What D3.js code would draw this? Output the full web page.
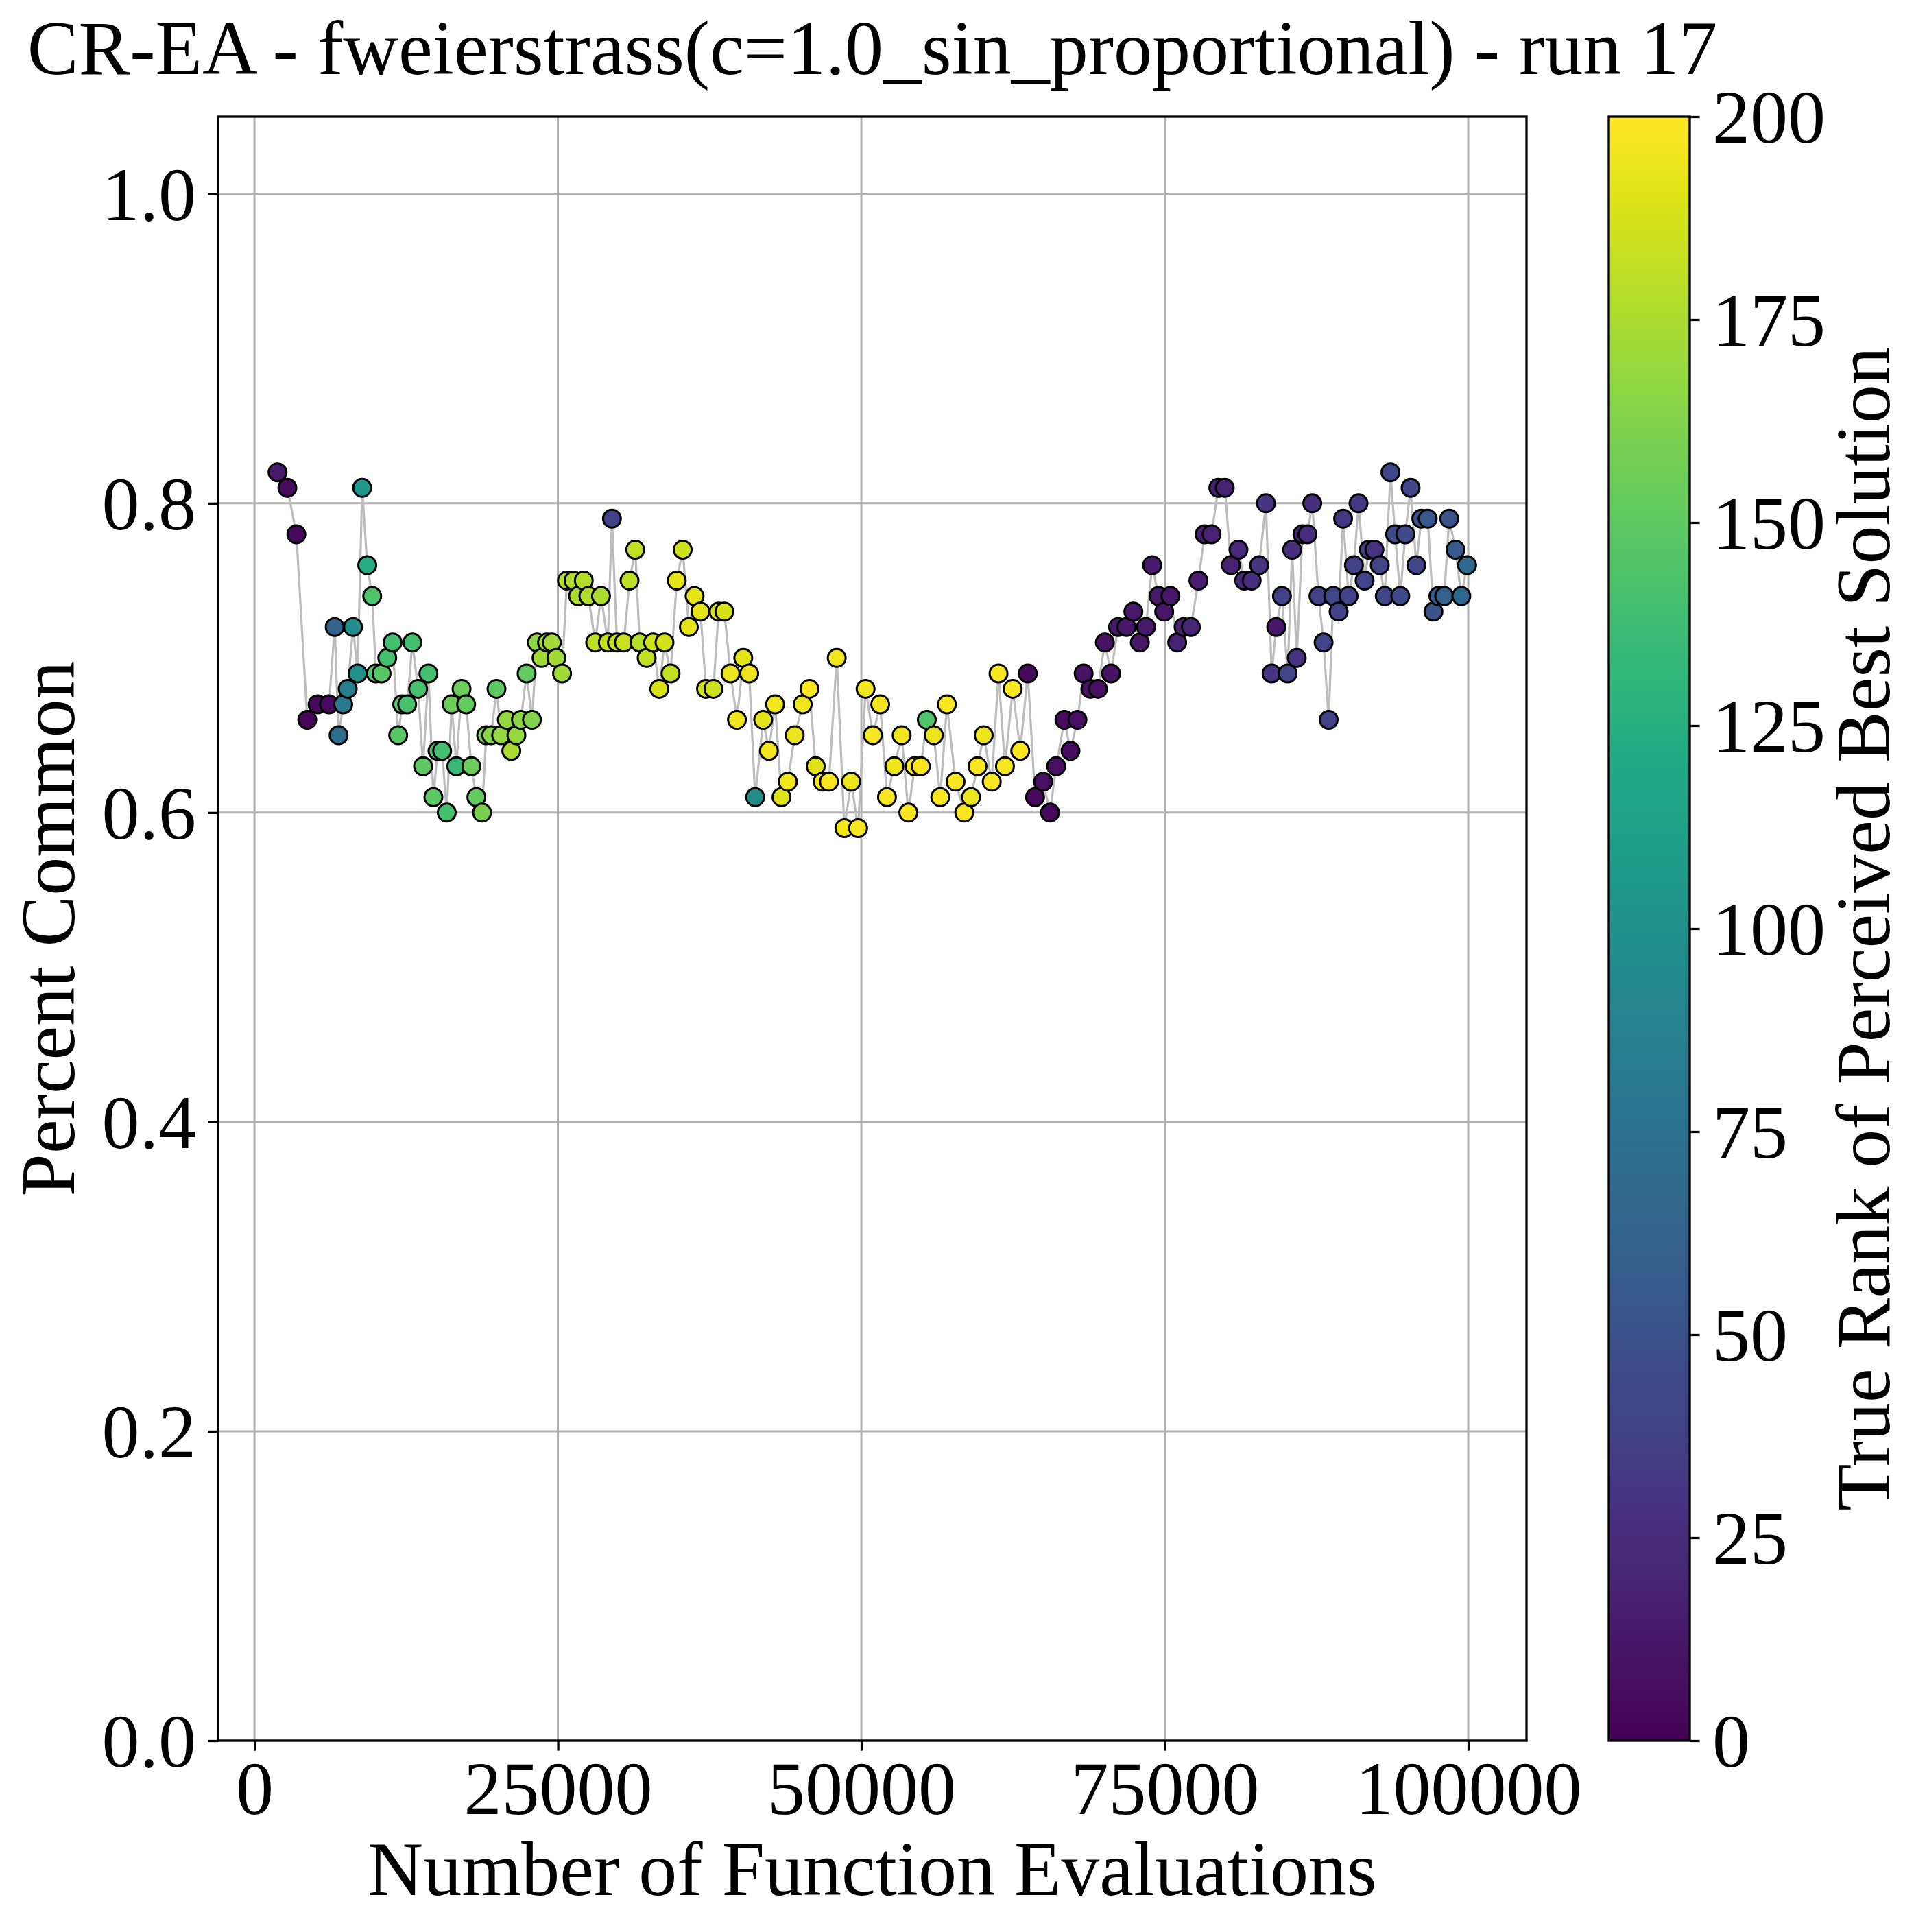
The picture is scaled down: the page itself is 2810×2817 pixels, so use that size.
<!DOCTYPE html>
<html>
<head>
<meta charset="utf-8">
<script src="https://cdn.jsdelivr.net/npm/d3@7"></script>
<style>
  body { margin: 0; background: #fff; }
  text { font-family: "Liberation Serif", "Times New Roman", serif; fill: #000; }
</style>
</head>
<body>
<div id="chart"></div>
<script>
// values
const evals = [1900, 2710, 3450, 4350, 5200, 6140, 6610, 6930, 7310, 7680,
  8120, 8500, 8870, 9290, 9700, 10000, 10470, 10940, 11380, 11840,
  12170, 12580, 13010, 13480, 13890, 14330, 14740, 15080, 15460, 15840,
  16250, 16630, 17060, 17440, 17870, 18280, 18750, 19090, 19510, 19940,
  20320, 20790, 21160, 21580, 21950, 22420, 22860, 23270, 23650, 24100,
  24500, 24870, 25340, 25740, 26290, 26660, 27130, 27510, 28070, 28550,
  29110, 29450, 29860, 30430, 30900, 31370, 31730, 32310, 32840, 33350,
  33780, 34280, 34790, 35280, 35790, 36260, 36740, 37200, 37810, 38240,
  38710, 39220, 39750, 40270, 40760, 41250, 41910, 42380, 42890, 43420,
  43940, 44510, 45170, 45720, 46240, 46810, 47330, 47970, 48600, 49160,
  49730, 50350, 50950, 51550, 52110, 52720, 53320, 53870, 54390, 54900,
  55390, 55970, 56500, 57050, 57760, 58480, 59040, 59570, 60080, 60740,
  61300, 61830, 62470, 63090, 63710, 64310, 64980, 65540, 66050, 66730,
  67230, 67800, 68310, 68870, 69490, 70060, 70570, 71150, 71840, 72410,
  72940, 73450, 73960, 74480, 74950, 75460, 76020, 76550, 77150, 77770,
  78280, 78850, 79410, 79940, 80450, 81070, 81540, 82160, 82770, 83330,
  83800, 84180, 84650, 85120, 85490, 85870, 86340, 86750, 87150, 87660,
  88080, 88500, 88880, 89320, 89690, 90140, 90580, 90960, 91460, 91800,
  92270, 92710, 93120, 93590, 93970, 94400, 94810, 95250, 95720, 96130,
  96660, 97130, 97540, 98020, 98430, 98950, 99430, 99900];

const percentCommon = [0.82, 0.81, 0.78, 0.66, 0.67, 0.67, 0.72, 0.65, 0.67, 0.68,
  0.72, 0.69, 0.81, 0.76, 0.74, 0.69, 0.69, 0.70, 0.71, 0.65,
  0.67, 0.67, 0.71, 0.68, 0.63, 0.69, 0.61, 0.64, 0.64, 0.60,
  0.67, 0.63, 0.68, 0.67, 0.63, 0.61, 0.60, 0.65, 0.65, 0.68,
  0.65, 0.66, 0.64, 0.65, 0.66, 0.69, 0.66, 0.71, 0.70, 0.71,
  0.71, 0.70, 0.69, 0.75, 0.75, 0.74, 0.75, 0.74, 0.71, 0.74,
  0.71, 0.79, 0.71, 0.71, 0.75, 0.77, 0.71, 0.70, 0.71, 0.68,
  0.71, 0.69, 0.75, 0.77, 0.72, 0.74, 0.73, 0.68, 0.68, 0.73,
  0.73, 0.69, 0.66, 0.70, 0.69, 0.61, 0.66, 0.64, 0.67, 0.61,
  0.62, 0.65, 0.67, 0.68, 0.63, 0.62, 0.62, 0.70, 0.59, 0.62,
  0.59, 0.68, 0.65, 0.67, 0.61, 0.63, 0.65, 0.60, 0.63, 0.63,
  0.66, 0.65, 0.61, 0.67, 0.62, 0.60, 0.61, 0.63, 0.65, 0.62,
  0.69, 0.63, 0.68, 0.64, 0.69, 0.61, 0.62, 0.60, 0.63, 0.66,
  0.64, 0.66, 0.69, 0.68, 0.68, 0.71, 0.69, 0.72, 0.72, 0.73,
  0.71, 0.72, 0.76, 0.74, 0.73, 0.74, 0.71, 0.72, 0.72, 0.75,
  0.78, 0.78, 0.81, 0.81, 0.76, 0.77, 0.75, 0.75, 0.76, 0.80,
  0.69, 0.72, 0.74, 0.69, 0.77, 0.70, 0.78, 0.78, 0.80, 0.74,
  0.71, 0.66, 0.74, 0.73, 0.79, 0.74, 0.76, 0.80, 0.75, 0.77,
  0.77, 0.76, 0.74, 0.82, 0.78, 0.74, 0.78, 0.81, 0.76, 0.79,
  0.79, 0.73, 0.74, 0.74, 0.79, 0.77, 0.74, 0.76];

const trueRank = [14, 6, 4, 3, 5, 6, 62, 72, 80, 84,
  98, 102, 106, 124, 145, 150, 148, 140, 140, 148,
  148, 142, 140, 142, 150, 140, 150, 145, 140, 140,
  155, 135, 155, 152, 155, 152, 160, 160, 165, 150,
  168, 168, 175, 168, 165, 152, 162, 165, 172, 172,
  172, 172, 172, 178, 176, 175, 178, 176, 180, 175,
  182, 38, 182, 184, 180, 182, 178, 182, 185, 188,
  187, 182, 192, 185, 192, 192, 192, 185, 185, 190,
  188, 195, 195, 192, 195, 98, 192, 196, 196, 190,
  196, 194, 196, 198, 190, 196, 198, 196, 196, 194,
  198, 196, 198, 196, 198, 194, 196, 198, 198, 198,
  145, 194, 198, 198, 198, 198, 194, 198, 194, 198,
  198, 198, 198, 198, 5, 5, 8, 5, 8, 6,
  6, 8, 10, 10, 8, 10, 10, 12, 12, 14,
  12, 14, 14, 14, 12, 12, 18, 18, 20, 16,
  18, 18, 18, 18, 18, 22, 24, 28, 30, 30,
  30, 12, 38, 40, 25, 30, 22, 25, 28, 38,
  40, 38, 42, 38, 32, 38, 38, 32, 40, 35,
  30, 40, 42, 42, 45, 45, 45, 42, 42, 50,
  55, 50, 55, 60, 52, 55, 65, 68];

const xTicks = [0, 25000, 50000, 75000, 100000];
const yTicks = [0.0, 0.2, 0.4, 0.6, 0.8, 1.0];
const rankTicks = [0, 25, 50, 75, 100, 125, 150, 175, 200];

const titleText = "CR-EA - fweierstrass(c=1.0_sin_proportional) - run 17";
const xLabel = "Number of Function Evaluations";
const yLabel = "Percent Common";
const cbLabel = "True Rank of Perceived Best Solution";

// page size
const width = 2810;
const height = 2817;

// plot box (window.top is taken, so prefixed names)
const plotLeft = 318, plotRight = 2226, plotTop = 170, plotBottom = 2538;
// colorbar box
const cbLeft = 2346, cbRight = 2464;

const labelSize = 112;
const tickSize = 110;
const tickLen = 14.6;
const serif = "'Liberation Serif', 'Times New Roman', serif";

const svg = d3.select("#chart")
  .append("svg")
  .attr("width", width)
  .attr("height", height);

svg.append("rect").attr("width", width).attr("height", height).attr("fill", "#fff");

// matplotlib style 5% margin on x
const ext = d3.extent(evals);
const pad = (ext[1] - ext[0]) * 0.05;
const x = d3.scaleLinear().domain([ext[0] - pad, ext[1] + pad]).range([plotLeft, plotRight]);
const y = d3.scaleLinear().domain([0, 1.05]).range([plotBottom, plotTop]);
const color = d3.scaleSequential(d3.interpolateViridis).domain([0, 200]);

const points = evals.map((e, i) => ({ x: e, y: percentCommon[i], c: trueRank[i] }));

// grid
svg.append("g")
  .selectAll("line")
  .data(xTicks)
  .enter()
  .append("line")
  .attr("x1", d => x(d)).attr("x2", d => x(d))
  .attr("y1", plotTop).attr("y2", plotBottom)
  .style("stroke", "#b0b0b0")
  .style("stroke-width", 3);

svg.append("g")
  .selectAll("line")
  .data(yTicks)
  .enter()
  .append("line")
  .attr("x1", plotLeft).attr("x2", plotRight)
  .attr("y1", d => y(d)).attr("y2", d => y(d))
  .style("stroke", "#b0b0b0")
  .style("stroke-width", 3);

// connecting line
const line = d3.line().x(d => x(d.x)).y(d => y(d.y));
svg.append("path")
  .datum(points)
  .attr("d", line)
  .style("fill", "none")
  .style("stroke", "#bdbdbd")
  .style("stroke-width", 3.2);

// markers
svg.append("g")
  .selectAll("circle")
  .data(points)
  .enter()
  .append("circle")
  .attr("cx", d => x(d.x))
  .attr("cy", d => y(d.y))
  .attr("r", 13)
  .style("fill", d => color(d.c))
  .style("stroke", "#000")
  .style("stroke-width", 3);

// axes with matplotlib-like look
const xAxis = d3.axisBottom(x).tickValues(xTicks).tickSize(tickLen).tickPadding(0).tickFormat(d3.format("d"));
const gx = svg.append("g").attr("transform", "translate(0," + plotBottom + ")").call(xAxis);
gx.select(".domain").remove();
gx.selectAll(".tick line").style("stroke", "#000").style("stroke-width", 3.3);
gx.selectAll(".tick text")
  .attr("y", 2645 - plotBottom).attr("dy", null)
  .style("font-size", tickSize + "px")
  .style("font-family", serif);

const yAxis = d3.axisLeft(y).tickValues(yTicks).tickSize(tickLen).tickPadding(0).tickFormat(d3.format(".1f"));
const gy = svg.append("g").attr("transform", "translate(" + plotLeft + ",0)").call(yAxis);
gy.select(".domain").remove();
gy.selectAll(".tick line").style("stroke", "#000").style("stroke-width", 3.3);
gy.selectAll(".tick text")
  .attr("x", 286 - plotLeft).attr("dy", "0.34em")
  .style("font-size", tickSize + "px")
  .style("font-family", serif);

// spines
svg.append("rect")
  .attr("x", plotLeft).attr("y", plotTop)
  .attr("width", plotRight - plotLeft).attr("height", plotBottom - plotTop)
  .style("fill", "none")
  .style("stroke", "#000")
  .style("stroke-width", 3.3);

// colorbar
const defs = svg.append("defs");
const grad = defs.append("linearGradient")
  .attr("id", "viridis")
  .attr("x1", 0).attr("y1", 1).attr("x2", 0).attr("y2", 0);
d3.range(0, 1.0001, 0.05).forEach(t => {
  grad.append("stop").attr("offset", t).attr("stop-color", d3.interpolateViridis(t));
});

const cbScale = d3.scaleLinear().domain([0, 200]).range([plotBottom, plotTop]);

svg.append("rect")
  .attr("x", cbLeft).attr("y", plotTop)
  .attr("width", cbRight - cbLeft).attr("height", plotBottom - plotTop)
  .style("fill", "url(#viridis)")
  .style("stroke", "#000")
  .style("stroke-width", 3.3);

const cbAxis = d3.axisRight(cbScale).tickValues(rankTicks).tickSize(tickLen).tickPadding(0).tickFormat(d3.format("d"));
const gc = svg.append("g").attr("transform", "translate(" + cbRight + ",0)").call(cbAxis);
gc.select(".domain").remove();
gc.selectAll(".tick line").style("stroke", "#000").style("stroke-width", 3.3);
gc.selectAll(".tick text")
  .attr("x", 2497 - cbRight).attr("dy", "0.34em")
  .style("font-size", tickSize + "px")
  .style("font-family", serif);

// labels
svg.append("text")
  .attr("x", (plotLeft + plotRight) / 2).attr("y", 108)
  .attr("text-anchor", "middle")
  .style("font-size", labelSize + "px")
  .text(titleText);

svg.append("text")
  .attr("x", (plotLeft + plotRight) / 2).attr("y", 2763)
  .attr("text-anchor", "middle")
  .style("font-size", labelSize + "px")
  .text(xLabel);

svg.append("text")
  .attr("transform", "translate(108," + (plotTop + plotBottom) / 2 + ") rotate(-90)")
  .attr("text-anchor", "middle")
  .style("font-size", labelSize + "px")
  .text(yLabel);

svg.append("text")
  .attr("transform", "translate(2755," + (plotTop + plotBottom) / 2 + ") rotate(-90)")
  .attr("text-anchor", "middle")
  .style("font-size", labelSize + "px")
  .text(cbLabel);
</script>
</body>
</html>
